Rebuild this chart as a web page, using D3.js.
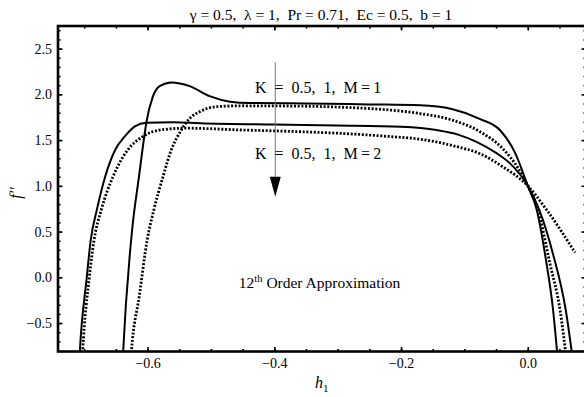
<!DOCTYPE html>
<html>
<head>
<meta charset="utf-8">
<script src="https://cdn.jsdelivr.net/npm/d3@7"></script>
<style>
  body { margin: 0; background: #fff; }
  svg { display: block; font-family: "Liberation Serif", "Times New Roman", serif; }
  text { white-space: pre; }
</style>
</head>
<body>
<svg id="chart" width="584" height="397"></svg>
<script>
// h1 / f'' pairs, one array per curve
var curveM1K05 = [
    [-0.6395, -0.95], [-0.6386, -0.817], [-0.6244, 0.52], [-0.6136, 1.10], [-0.6052, 1.54],
    [-0.602, 1.69], [-0.592, 1.97], [-0.581, 2.09], [-0.5625, 2.13], [-0.5336, 2.09],
    [-0.502, 1.98], [-0.47, 1.92], [-0.438, 1.905], [-0.35, 1.90], [-0.25, 1.89],
    [-0.17, 1.88], [-0.12, 1.84], [-0.075, 1.73], [-0.044, 1.61], [-0.02, 1.36],
    [0.0, 1.0], [0.014, 0.74], [0.028, 0.22], [0.040, -0.36], [0.048, -0.95]
];
var curveM1K1 = [
    [-0.627, -0.95], [-0.6256, -0.817], [-0.613, -0.2], [-0.6006, 0.41], [-0.59, 0.74],
    [-0.5757, 1.10], [-0.5625, 1.395], [-0.5467, 1.61], [-0.533, 1.74], [-0.518, 1.81],
    [-0.491, 1.865], [-0.45, 1.875], [-0.35, 1.87], [-0.28, 1.855], [-0.22, 1.83],
    [-0.17, 1.79], [-0.12, 1.72], [-0.075, 1.59], [-0.04, 1.41], [-0.015, 1.19],
    [0.0, 1.0], [0.016, 0.74], [0.035, 0.15], [0.051, -0.36], [0.062, -0.95]
];
var curveM2K05 = [
    [-0.708, -0.95], [-0.707, -0.817], [-0.696, 0.0], [-0.6897, 0.41], [-0.680, 0.74],
    [-0.667, 1.10], [-0.651, 1.395], [-0.636, 1.54], [-0.62, 1.65], [-0.602, 1.69],
    [-0.56, 1.695], [-0.517, 1.685], [-0.4, 1.67], [-0.3, 1.66], [-0.2, 1.645],
    [-0.144, 1.61], [-0.11, 1.56], [-0.081, 1.48], [-0.05, 1.36], [-0.028, 1.245],
    [0.0, 1.0], [0.018, 0.74], [0.040, 0.25], [0.060, -0.36], [0.072, -0.95]
];
var curveM2K1 = [
    [-0.7035, -0.95], [-0.7025, -0.817], [-0.692, 0.0], [-0.6844, 0.41], [-0.673, 0.74],
    [-0.6546, 1.10], [-0.631, 1.395], [-0.6073, 1.54], [-0.5805, 1.61], [-0.539, 1.63],
    [-0.45, 1.61], [-0.375, 1.595], [-0.3, 1.575], [-0.22, 1.54], [-0.17, 1.51],
    [-0.113, 1.43], [-0.075, 1.35], [-0.04, 1.21], [0.0, 1.0], [0.0295, 0.74],
    [0.0747, 0.27]
];

var xMajor = [-0.6, -0.4, -0.2, 0.0];
var yMajor = [-0.5, 0.0, 0.5, 1.0, 1.5, 2.0, 2.5];

var titleText = "\u03b3 = 0.5,  \u03bb = 1,  Pr = 0.71,  Ec = 0.5,  b = 1";
var labelM1 = "K  =  0.5,  1,  M\u2009=\u20091";
var labelM2 = "K  =  0.5,  1,  M\u2009=\u20092";

var svg = d3.select("#chart");

var plotLeft = 58, plotRight = 586, plotTop = 26, plotBottom = 351.5;

var x = d3.scaleLinear().domain([-0.7414, 0.0919]).range([plotLeft, plotRight]);
var y = d3.scaleLinear().domain([-0.811, 2.747]).range([plotBottom, plotTop]);

var xMinor = d3.range(-0.7, 0.1, 0.05).map(function(v) { return +v.toFixed(2); });
var yMinor = d3.range(-0.8, 2.8, 0.1).map(function(v) { return +v.toFixed(1); });

svg.append("defs").append("clipPath")
    .attr("id", "plotClip")
  .append("rect")
    .attr("x", plotLeft)
    .attr("y", plotTop)
    .attr("width", plotRight - plotLeft)
    .attr("height", plotBottom - plotTop);

var fmt = d3.format(".1f");

function styleAxis(g) {
    g.select(".domain").remove();
    g.selectAll("line").attr("stroke", "black").attr("stroke-width", 1.6);
    g.selectAll("text").attr("fill", "black").attr("font-size", 14)
        .attr("font-family", "Liberation Serif, Times New Roman, serif");
}

// minor ticks on all four sides
svg.append("g").attr("transform", "translate(0," + plotBottom + ")")
    .call(d3.axisBottom(x).tickValues(xMinor).tickSize(-2.5).tickFormat(""))
    .call(styleAxis);
svg.append("g").attr("transform", "translate(0," + plotTop + ")")
    .call(d3.axisTop(x).tickValues(xMinor).tickSize(-2.5).tickFormat(""))
    .call(styleAxis);
svg.append("g").attr("transform", "translate(" + plotLeft + ",0)")
    .call(d3.axisLeft(y).tickValues(yMinor).tickSize(-2.5).tickFormat(""))
    .call(styleAxis);
svg.append("g").attr("transform", "translate(" + plotRight + ",0)")
    .call(d3.axisRight(y).tickValues(yMinor).tickSize(-2.5).tickFormat(""))
    .call(styleAxis);

// major ticks with labels
svg.append("g").attr("transform", "translate(0," + plotBottom + ")")
    .call(d3.axisBottom(x).tickValues(xMajor).tickSize(-4.5).tickPadding(7).tickFormat(fmt))
    .call(styleAxis);
svg.append("g").attr("transform", "translate(0," + plotTop + ")")
    .call(d3.axisTop(x).tickValues(xMajor).tickSize(-4.5).tickFormat(""))
    .call(styleAxis);
svg.append("g").attr("transform", "translate(" + plotLeft + ",0)")
    .call(d3.axisLeft(y).tickValues(yMajor).tickSize(-4.5).tickPadding(6).tickFormat(fmt))
    .call(styleAxis);
svg.append("g").attr("transform", "translate(" + plotRight + ",0)")
    .call(d3.axisRight(y).tickValues(yMajor).tickSize(-4.5).tickFormat(""))
    .call(styleAxis);

// curves
var line = d3.line()
    .x(function(d) { return x(d[0]); })
    .y(function(d) { return y(d[1]); })
    .curve(d3.curveMonotoneX);

var curves = [
    { pts: curveM1K05, dotted: false },
    { pts: curveM2K05, dotted: false },
    { pts: curveM1K1, dotted: true },
    { pts: curveM2K1, dotted: true }
];

svg.append("g")
    .attr("clip-path", "url(#plotClip)")
  .selectAll("path.curve")
    .data(curves).enter().append("path")
    .attr("class", "curve")
    .attr("d", function(d) { return line(d.pts); })
    .attr("fill", "none")
    .attr("stroke", "black")
    .attr("stroke-width", function(d) { return d.dotted ? 2.8 : 2; })
    .attr("stroke-dasharray", function(d) { return d.dotted ? "2,1.7" : null; });

// frame
svg.append("rect")
    .attr("x", plotLeft)
    .attr("y", plotTop)
    .attr("width", plotRight - plotLeft)
    .attr("height", plotBottom - plotTop)
    .attr("fill", "none")
    .attr("stroke", "black")
    .attr("stroke-width", 2.6);

// arrow
var arrowX = x(-0.3985);
svg.append("line")
    .attr("x1", arrowX).attr("x2", arrowX)
    .attr("y1", y(2.35)).attr("y2", y(1.0))
    .attr("stroke", "#777")
    .attr("stroke-width", 1);
var tipY = y(0.88), headY = y(1.1);
svg.append("path")
    .attr("d", "M" + (arrowX - 5.5) + "," + headY + "L" + (arrowX + 5.5) + "," + headY +
        "L" + arrowX + "," + tipY + "Z")
    .attr("fill", "black");

// annotations
svg.append("text")
    .attr("x", x(-0.4305))
    .attr("y", y(2.015))
    .attr("font-size", 16)
    .text(labelM1);
svg.append("text")
    .attr("x", x(-0.4305))
    .attr("y", y(1.295))
    .attr("font-size", 16)
    .text(labelM2);

var approx = svg.append("text")
    .attr("x", x(-0.456))
    .attr("y", y(-0.117))
    .attr("font-size", 15.5);
approx.append("tspan").text("12");
approx.append("tspan").attr("font-size", 10.5).attr("dy", -6).text("th");
approx.append("tspan").attr("dy", 6).text(" Order Approximation");

// title
svg.append("text")
    .attr("x", (plotLeft + plotRight) / 2 - 1)
    .attr("y", 20)
    .attr("text-anchor", "middle")
    .attr("font-size", 15.5)
    .text(titleText);

// axis labels
var xl = svg.append("text")
    .attr("x", 315)
    .attr("y", 388)
    .attr("font-size", 16);
xl.append("tspan").attr("font-style", "italic").text("h");
xl.append("tspan").attr("font-size", 11).attr("dy", 4).text("1");

svg.append("text")
    .attr("transform", "translate(21,193) rotate(-90)")
    .attr("text-anchor", "middle")
    .attr("font-size", 16)
    .attr("font-style", "italic")
    .text("f\u2032\u2032");
</script>
</body>
</html>
